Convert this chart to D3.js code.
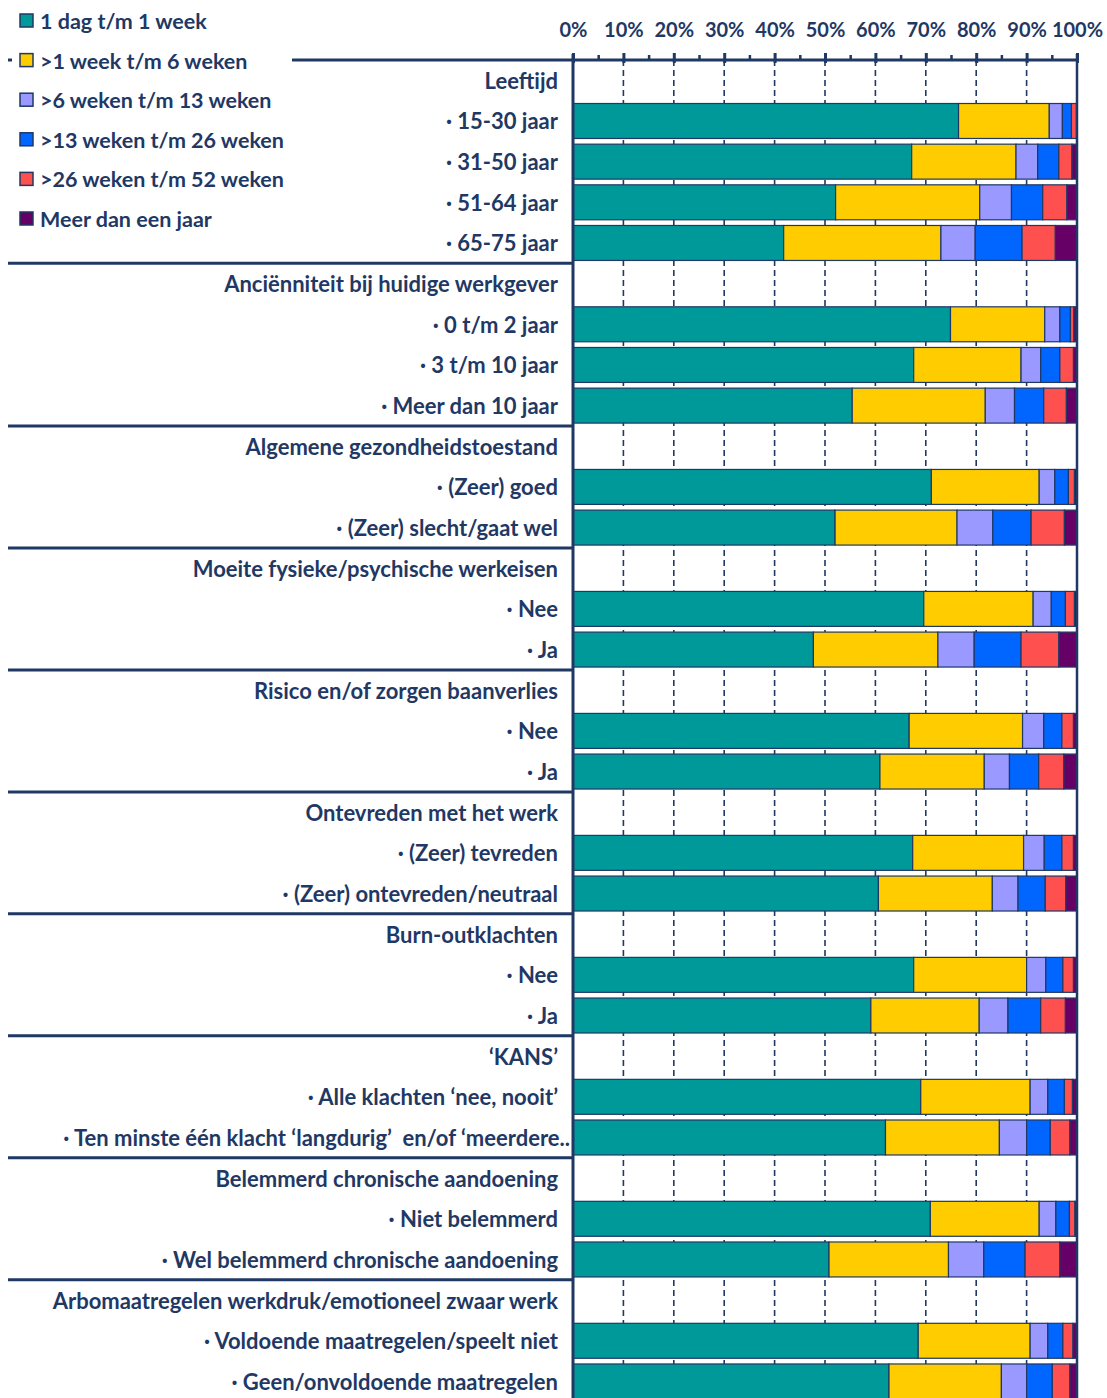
<!DOCTYPE html>
<html>
<head>
<meta charset="utf-8">
<script src="https://d3js.org/d3.v7.min.js"></script>
<style>
  body { margin: 0; background: #fff; }
  text { font-family: Lato, "Open Sans", sans-serif; font-weight: 700; fill: #1f3864; }
</style>
</head>
<body>
<div id="chart"></div>
<script>
const width = 1107;
const height = 1398;
const navy = "#1f3864";

// ******** DATA ********
const rowLabels = [
  "Leeftijd", "15-30 jaar", "31-50 jaar", "51-64 jaar", "65-75 jaar",
  "Anciënniteit bij huidige werkgever", "0 t/m 2 jaar", "3 t/m 10 jaar", "Meer dan 10 jaar",
  "Algemene gezondheidstoestand", "(Zeer) goed", "(Zeer) slecht/gaat wel",
  "Moeite fysieke/psychische werkeisen", "Nee", "Ja",
  "Risico en/of zorgen baanverlies", "Nee", "Ja",
  "Ontevreden met het werk", "(Zeer) tevreden", "(Zeer) ontevreden/neutraal",
  "Burn-outklachten", "Nee", "Ja",
  "‘KANS’", "Alle klachten ‘nee, nooit’", "Ten minste één klacht ‘langdurig’  en/of ‘meerdere..",
  "Belemmerd chronische aandoening", "Niet belemmerd", "Wel belemmerd chronische aandoening",
  "Arbomaatregelen werkdruk/emotioneel zwaar werk", "Voldoende maatregelen/speelt niet", "Geen/onvoldoende maatregelen"
];
const groupHeaders = [0, 5, 9, 12, 15, 18, 21, 24, 27, 30];

const seriesNames = ["1 dag t/m 1 week", ">1 week t/m 6 weken", ">6 weken t/m 13 weken",
  ">13 weken t/m 26 weken", ">26 weken t/m 52 weken", "Meer dan een jaar"];
const colors = ["#009999", "#ffcc00", "#9999ff", "#0066ff", "#ff5050", "#660066"];

// one value per bar row (header rows skipped), in %
const dag1   = [76.5, 67.2, 52.1, 41.8, 74.9, 67.6, 55.4, 71.1, 52.0, 69.6, 47.7, 66.7, 60.9, 67.4, 60.6, 67.6, 59.1, 69.0, 62.0, 70.9, 50.8, 68.5, 62.7];
const week6  = [18.0, 20.7, 28.6, 31.2, 18.7, 21.3, 26.4, 21.4, 24.2, 21.7, 24.7, 22.5, 20.7, 22.0, 22.6, 22.4, 21.5, 21.7, 22.6, 21.6, 23.7, 22.2, 22.3];
const week13 = [2.6, 4.3, 6.3, 6.8, 3.0, 3.9, 5.8, 3.1, 7.1, 3.6, 7.2, 4.2, 5.0, 4.1, 5.1, 3.8, 5.7, 3.5, 5.4, 3.3, 7.0, 3.5, 5.0];
const week26 = [1.8, 4.2, 6.2, 9.3, 2.1, 3.8, 5.8, 2.7, 7.6, 2.8, 9.3, 3.6, 5.8, 3.5, 5.4, 3.4, 6.5, 3.3, 4.7, 2.7, 8.2, 3.0, 5.1];
const week52 = [1.0, 2.6, 4.8, 6.6, 0.7, 2.7, 4.5, 1.2, 6.6, 1.8, 7.5, 2.3, 5.0, 2.3, 4.1, 2.1, 4.9, 1.6, 3.9, 1.1, 6.9, 2.0, 3.5];
const jaar   = [0.1, 1.0, 2.0, 4.3, 0.6, 0.7, 2.1, 0.5, 2.5, 0.5, 3.6, 0.7, 2.6, 0.7, 2.2, 0.7, 2.3, 0.9, 1.4, 0.4, 3.4, 0.8, 1.4];
const series = [dag1, week6, week13, week26, week52, jaar];

const xTicks = d3.range(0, 101, 10);
const xMinor = d3.range(5, 100, 10);

// ********* SVG *********
const svg = d3.select("#chart").append("svg")
  .attr("width", width)
  .attr("height", height);

const plot = {left: 573, right: 1077, top: 60};
const rowStep = 40.66;

const x = d3.scaleLinear().domain([0, 100]).range([plot.left, plot.right]);
const y = d3.scaleBand()
  .domain(d3.range(rowLabels.length))
  .range([plot.top, plot.top + rowStep * rowLabels.length])
  .paddingInner(0.14)
  .paddingOuter(0.07);

// ******** ROWS -> STACKED DATA ********
const barRows = d3.range(rowLabels.length).filter(i => !groupHeaders.includes(i));
const stacked = [];
barRows.forEach(function(row, j) {
  let acc = 0;
  series.forEach(function(s, k) {
    stacked.push({row: row, k: k, x0: acc, x1: acc + s[j]});
    acc += s[j];
  });
});

// ******** GRIDLINES ********
svg.append("g").selectAll("line")
  .data(xTicks.filter(d => d > 0 && d < 100))
  .enter().append("line")
  .attr("x1", d => x(d)).attr("x2", d => x(d))
  .attr("y1", plot.top).attr("y2", height)
  .attr("stroke", navy)
  .attr("stroke-width", 1.6)
  .attr("stroke-dasharray", "6,4");

// ******** BARS ********
svg.append("g").selectAll("rect")
  .data(stacked)
  .enter().append("rect")
  .attr("x", d => x(d.x0))
  .attr("y", d => y(d.row))
  .attr("width", d => Math.max(0, x(Math.min(d.x1, 100)) - x(d.x0)))
  .attr("height", y.bandwidth())
  .attr("fill", d => colors[d.k])
  .attr("stroke", navy)
  .attr("stroke-width", 1.2);

// ******** FRAME LINES ********
svg.append("line")
  .attr("x1", 8).attr("x2", plot.right)
  .attr("y1", plot.top).attr("y2", plot.top)
  .attr("stroke", navy).attr("stroke-width", 3);
svg.append("line")
  .attr("x1", plot.left).attr("x2", plot.left)
  .attr("y1", plot.top - 6).attr("y2", height)
  .attr("stroke", navy).attr("stroke-width", 3);
svg.append("line")
  .attr("x1", plot.right).attr("x2", plot.right)
  .attr("y1", plot.top - 6).attr("y2", height)
  .attr("stroke", navy).attr("stroke-width", 2.5);

// group separators in the label area
svg.append("g").selectAll("line")
  .data(groupHeaders.filter(i => i > 0))
  .enter().append("line")
  .attr("x1", 8).attr("x2", plot.left)
  .attr("y1", d => plot.top + d * rowStep).attr("y2", d => plot.top + d * rowStep)
  .attr("stroke", navy).attr("stroke-width", 3);

// ******** TOP AXIS ********
const axis = svg.append("g")
  .attr("transform", `translate(0, ${plot.top})`)
  .call(d3.axisTop(x).tickValues(xTicks).tickSize(7).tickPadding(16).tickFormat(d => d + "%"));
axis.select(".domain").remove();
axis.selectAll(".tick line")
  .attr("y1", 3)
  .attr("stroke", navy)
  .attr("stroke-width", 3);
axis.selectAll(".tick text")
  .style("font-family", "Lato, sans-serif")
  .style("font-weight", 700)
  .style("font-size", "20px")
  .attr("fill", navy);

const minor = svg.append("g")
  .attr("transform", `translate(0, ${plot.top})`)
  .call(d3.axisTop(x).tickValues(xMinor).tickSize(5).tickFormat(""));
minor.select(".domain").remove();
minor.selectAll(".tick line").attr("stroke", navy).attr("stroke-width", 2.5);

// ******** ROW LABELS ********
svg.append("g").selectAll("text")
  .data(d3.range(rowLabels.length))
  .enter().append("text")
  .attr("x", d => rowLabels[d].endsWith("..") ? 570 : 558)
  .attr("y", d => y(d) + y.bandwidth() / 2)
  .attr("text-anchor", "end")
  .attr("dominant-baseline", "central")
  .style("font-size", "22px")
  .style("white-space", "pre")
  .text(d => groupHeaders.includes(d) ? rowLabels[d] : "· " + rowLabels[d]);

// ******** LEGEND ********
const legend = svg.append("g").attr("id", "legend");
legend.append("rect")
  .attr("x", 12).attr("y", 38)
  .attr("width", 280).attr("height", 200)
  .attr("fill", "#fff");

const legendEntry = legend.selectAll(".entry")
  .data(seriesNames)
  .enter().append("g")
  .attr("class", "entry")
  .attr("transform", (d, i) => `translate(0, ${21 + i * 39.6})`);
legendEntry.append("rect")
  .attr("x", 20).attr("y", -7)
  .attr("width", 13).attr("height", 13)
  .attr("fill", (d, i) => colors[i])
  .attr("stroke", navy)
  .attr("stroke-width", 1.5);
legendEntry.append("text")
  .attr("x", 40)
  .attr("dominant-baseline", "central")
  .style("font-size", "21.5px")
  .text(d => d);
</script>
</body>
</html>
